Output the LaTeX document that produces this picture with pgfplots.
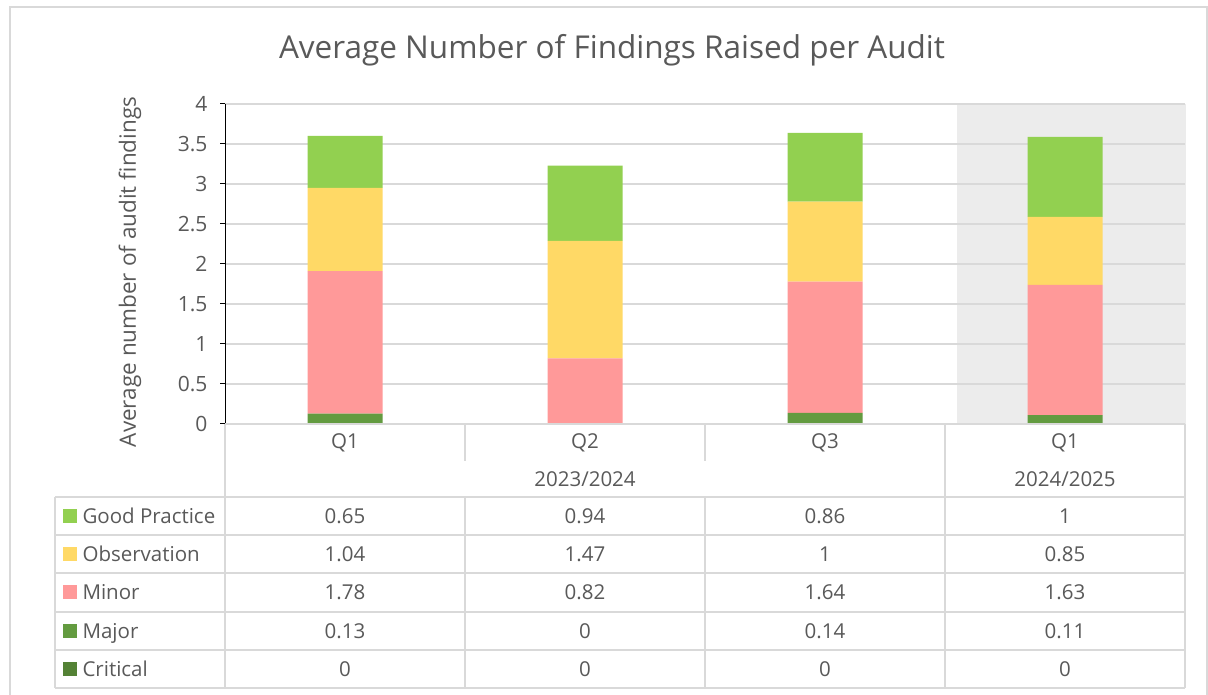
\documentclass[border=0pt]{standalone}
\usepackage{fontspec}
\setmainfont{Open Sans}
\usepackage{pgfplots}
\pgfplotsset{compat=1.18}
\definecolor{txt}{RGB}{89,89,89}
\definecolor{gridc}{RGB}{217,217,217}
\definecolor{gp}{RGB}{146,208,80}
\definecolor{obs}{RGB}{255,217,102}
\definecolor{minor}{RGB}{255,153,153}
\definecolor{major}{RGB}{99,155,64}
\definecolor{crit}{RGB}{84,130,53}
\definecolor{shadec}{RGB}{236,236,236}
\begin{document}
\begin{tikzpicture}[x=1pt,y=1pt]
\useasboundingbox (0,0) rectangle (1208,694);
\fill[white] (0,0) rectangle (1208,694);
\begin{scope}[shift={(0,694)},y=-1pt]
\draw[gridc, line width=1.5pt] (10,7) rectangle (1207,720);
\fill[shadec] (957,104) rectangle (1186,424);
\node[text=txt, font=\fontsize{31.5}{36}\selectfont] at (612,50) {Average Number of Findings Raised per Audit};
\node[text=txt, font=\fontsize{22.5}{26}\selectfont, rotate=90] at (130,272) {Average number of audit findings};
\end{scope}
\begin{axis}[at={(225pt,270pt)}, anchor=south west, scale only axis,
  width=960pt, height=320pt,
  ybar stacked, bar width=75pt,
  xmin=-0.5, xmax=3.5, ymin=0, ymax=4,
  ytick={0,0.5,1,1.5,2,2.5,3,3.5,4}, xtick=\empty,
  axis lines*=left, x axis line style={draw=none},
  y axis line style={black, line width=1pt},
  ymajorgrids, grid style={gridc, line width=1.4pt},
  tick align=outside, major tick length=5pt,
  ytick style={black, line width=1pt},
  yticklabel style={font=\fontsize{21}{24}\selectfont, text=txt, xshift=-9pt},
  /pgf/number format/assume math mode=true,
  clip=false]
\addplot[fill=crit, draw=none] coordinates {(0,0) (1,0) (2,0) (3,0)};
\addplot[fill=major, draw=none] coordinates {(0,0.13) (1,0) (2,0.14) (3,0.11)};
\addplot[fill=minor, draw=none] coordinates {(0,1.78) (1,0.82) (2,1.64) (3,1.63)};
\addplot[fill=obs, draw=none] coordinates {(0,1.04) (1,1.47) (2,1) (3,0.85)};
\addplot[fill=gp, draw=none] coordinates {(0,0.65) (1,0.94) (2,0.86) (3,1)};
\end{axis}
\begin{scope}[shift={(0,694)},y=-1pt]
\begin{scope}[gridc, line width=1.5pt]
\draw (225,424) -- (1185,424);
\draw (225,424) -- (225,688);
\draw (465,424) -- (465,461); \draw (705,424) -- (705,461);
\draw (465,497) -- (465,688); \draw (705,497) -- (705,688);
\draw (945,424) -- (945,688);
\draw (1185,424) -- (1185,688);
\draw (55,497) -- (55,688);
\foreach \yy in {497,535,573,612,650,688} \draw (55,\yy) -- (1185,\yy);
\end{scope}
\begin{scope}[every node/.style={text=txt, font=\fontsize{20.5}{24}\selectfont, text height=15pt, text depth=0pt}]
\node at (345,441) {Q1}; \node at (585,441) {Q2}; \node at (825,441) {Q3}; \node at (1065,441) {Q1};
\node at (585,479) {2023/2024}; \node at (1065,479) {2024/2025};
\fill[gp] (63,509) rectangle (77,523);
\fill[obs] (63,547) rectangle (77,561);
\fill[minor] (63,585) rectangle (77,599);
\fill[major] (63,624) rectangle (77,638);
\fill[crit] (63,662) rectangle (77,676);
\node[anchor=west] at (79,516) {Good Practice};
\node[anchor=west] at (79,554) {Observation};
\node[anchor=west] at (79,592) {Minor};
\node[anchor=west] at (79,631) {Major};
\node[anchor=west] at (79,669) {Critical};
\node at (345,516) {0.65}; \node at (585,516) {0.94}; \node at (825,516) {0.86}; \node at (1065,516) {1};
\node at (345,554) {1.04}; \node at (585,554) {1.47}; \node at (825,554) {1}; \node at (1065,554) {0.85};
\node at (345,592) {1.78}; \node at (585,592) {0.82}; \node at (825,592) {1.64}; \node at (1065,592) {1.63};
\node at (345,631) {0.13}; \node at (585,631) {0}; \node at (825,631) {0.14}; \node at (1065,631) {0.11};
\node at (345,669) {0}; \node at (585,669) {0}; \node at (825,669) {0}; \node at (1065,669) {0};
\end{scope}
\end{scope}
\end{tikzpicture}
\end{document}
